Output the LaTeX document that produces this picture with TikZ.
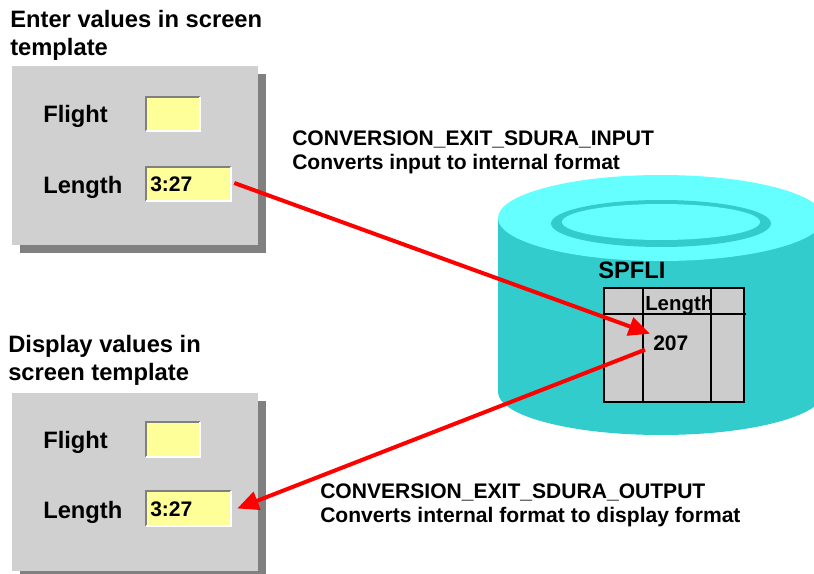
\documentclass[tikz,border=0pt]{standalone}
\usepackage{fontspec}
\setmainfont{Liberation Sans}
\usepackage{xcolor}
\usepackage{tikz}
\usetikzlibrary{arrows.meta,calc,shadows}
\definecolor{panelgray}{HTML}{D0D0D0}
\definecolor{shadegray}{HTML}{808080}
\definecolor{fieldyellow}{HTML}{FFFF99}
\definecolor{dbtop}{HTML}{66FFFF}
\definecolor{dbside}{HTML}{33CCCC}
\definecolor{tablegray}{HTML}{CCCCCC}

\newcommand{\bigfont}{\fontsize{17.8}{21}\selectfont\bfseries}
\newcommand{\midfont}{\fontsize{15.8}{18}\selectfont\bfseries}
% sunken border of an input field
\newcommand{\fieldedge}[1]{%
  \draw[shadegray, line width=1.5pt] (#1.south west) -- (#1.north west) -- (#1.north east);
  \draw[white, line width=1.5pt] (#1.south west) -- (#1.south east) -- (#1.north east);}

\begin{document}
\begin{tikzpicture}[x=0.75pt, y=-0.75pt,
    panel/.style={rectangle, fill=panelgray, inner sep=0, minimum width=184.5pt,
                 minimum height=133.5pt,
                 drop shadow={shadow xshift=6pt, shadow yshift=-6pt, fill=shadegray, opacity=1}},
    field/.style={rectangle, fill=fieldyellow, inner sep=0, minimum height=25.5pt},
    title/.style={anchor=north west, inner sep=0, align=left, font=\bigfont},
    label/.style={anchor=base west, inner sep=0, font=\bigfont},
    note/.style={anchor=north west, inner sep=0, align=left, font=\midfont},
    arr/.style={-{Triangle[length=16pt, width=14pt]}, red, line width=3pt},
]
    \clip (0,0) rectangle (814,574);

    % entry screen
    \node[title] (t1) at (10,10) {Enter values in screen\\template};
    \node[panel] (p1) at (134.5,155.5) {};
    \node[label] (fl1) at (43,123) {Flight};
    \node[label] (ll1) at (43,194) {Length};
    \node[field, minimum width=40.5pt] (f1) at (173,114) {};
    \node[field, minimum width=63.75pt] (len1) at (188.5,184) {};
    \fieldedge{f1}
    \fieldedge{len1}
    \node[anchor=base west, inner sep=0, font=\midfont] (v1) at (150,192) {3:27};

    % display screen
    \node[title] (t2) at (8,335) {Display values in\\screen template};
    \node[panel] (p2) at (134.5,481.5) {};
    \node[label] (fl2) at (43,448) {Flight};
    \node[label] (ll2) at (43,518) {Length};
    \node[field, minimum width=40.5pt] (f2) at (173,439.5) {};
    \node[field, minimum width=63.75pt] (len2) at (188.5,508.5) {};
    \fieldedge{f2}
    \fieldedge{len2}
    \node[anchor=base west, inner sep=0, font=\midfont] (v2) at (150,516) {3:27};

    % database
    \fill[dbside] (498,218) rectangle (824,392);
    \fill[dbside] (661,392) ellipse [x radius=163, y radius=43];
    \fill[dbtop] (661,218) ellipse [x radius=163, y radius=43];
    \fill[dbside] (661,223.5) ellipse [x radius=110, y radius=23.5];
    \fill[dbtop] (661,222) ellipse [x radius=99, y radius=18];
    \node[label] (db) at (598,278.5) {SPFLI};

    \draw[fill=tablegray, line width=0.8pt] (604,288) rectangle (744,402);
    \draw[line width=0.8pt] (604,314) -- (746,314);
    \draw[line width=0.8pt] (643,288) -- (643,402);
    \draw[line width=0.8pt] (711,288) -- (711,402);
    \node[anchor=base west, inner sep=0, font=\fontsize{15.3}{18}\selectfont\bfseries] (hd) at (645,310) {Length};
    \node[anchor=base west, inner sep=0, font=\midfont] (val) at (653,350) {207};

    % conversion exits
    \node[note] (cin) at (292,131) {CONVERSION\_EXIT\_SDURA\_INPUT\\Converts input to internal format};
    \node[note] (cout) at (320,484) {CONVERSION\_EXIT\_SDURA\_OUTPUT\\Converts internal format to display format};

    \draw[arr] ($(len1.east)+(3,-1)$) -- ($(val.west)+(-3,-9)$);
    \draw[arr] ($(val.west)+(-8,7)$) -- ($(len2.east)+(6,0)$);
\end{tikzpicture}
\end{document}
